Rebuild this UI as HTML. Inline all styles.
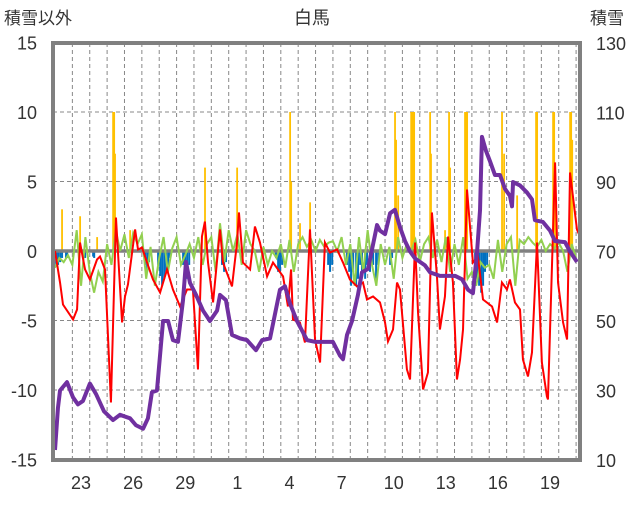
<!DOCTYPE html>
<html><head><meta charset="utf-8">
<style>
body{margin:0;background:#fff;}
svg text{font-family:"Liberation Sans","Noto Sans CJK JP",sans-serif;fill:#333;}
</style></head>
<body>
<svg id="chart" width="636" height="501" xmlns="http://www.w3.org/2000/svg">
<text x="312" y="24" font-size="18" text-anchor="middle">白馬</text>
<text x="4" y="24" font-size="17">積雪以外</text>
<text x="590" y="24" font-size="17">積雪</text>
<g id="grid"></g>
<g id="bars"></g>
<g id="lines"></g>
<g id="frame"></g>
<g id="ticks"></g>
</svg>
<script>
const leftTicks=[15,10,5,0,-5,-10,-15];
const rightTicks=[130,110,90,70,50,30,10];
const dayLabels=['23','26','29','1','4','7','10','13','16','19'];
const dayLabelPos=[1.5,4.5,7.5,10.5,13.5,16.5,19.5,22.5,25.5,28.5];
const snowDays=[0,0.17,0.29,0.69,1.04,1.32,1.61,2.01,2.36,2.82,3.34,3.74,4.32,4.66,5.07,5.35,5.58,5.87,6.22,6.51,6.79,7.08,7.37,7.54,7.77,8.12,8.52,8.92,9.33,9.5,9.84,10.19,10.65,11.05,11.57,11.92,12.38,12.95,13.24,13.53,13.93,14.51,14.97,15.54,16.0,16.41,16.58,16.81,17.1,17.44,17.67,18.02,18.54,18.71,19.0,19.29,19.57,19.86,20.15,20.44,20.73,21.3,21.59,22.16,22.45,23.03,23.43,23.78,24.06,24.3,24.47,24.58,24.81,25.04,25.33,25.62,25.91,26.19,26.31,26.37,26.77,27.17,27.46,27.63,28.09,28.5,28.79,29.36,29.65,30.05];
const snowDepth=[12.9,25,30,32.4,28,26,27,32,29,24,21.5,23,22,20,19,22,29.5,30,50,50,44.5,44,56,67,61,57.5,53,50,53,57.5,56,46,45,44.5,41.6,44.5,45,59,60,55,50,44.5,44,44,44,40,39,46,50,57.5,64,65,77.6,76,75,81,82,77,73,70,68,66,64,63,63,63,62,59,58,70,82,103,99,96,92,92,88,86,83,90,89,87,85,79,78.5,76,73,72.7,70,67];
const tempDays=[0,0.29,0.46,1.04,1.27,1.44,1.73,2.01,2.42,2.59,2.88,3.22,3.51,3.86,4.03,4.20,4.61,4.78,5.01,5.30,5.64,6.05,6.45,6.79,7.20,7.60,7.94,8.23,8.46,8.63,8.81,9.10,9.50,9.67,10.19,10.48,10.59,10.82,11.23,11.51,11.80,12.21,12.55,13.13,13.41,13.59,13.70,14.10,14.39,14.68,14.97,15.26,15.54,15.83,16.24,16.58,16.98,17.39,17.73,17.96,18.31,18.71,19.0,19.17,19.46,19.69,19.86,20.26,20.44,20.73,20.90,21.19,21.47,21.70,21.99,22.16,22.45,22.63,22.91,23.14,23.32,23.49,23.72,24.06,24.35,24.64,25.16,25.45,25.73,26.02,26.19,26.48,26.77,26.94,27.23,27.46,27.75,28.03,28.32,28.38,28.79,28.96,29.25,29.48,29.65,30.05,30.22];
const tempVals=[0,-2.27,-3.85,-4.93,-4.21,0.61,-1.33,-2.05,-0.61,-0.40,-1.33,-10.9,2.41,-5.14,-3.27,-2.41,1.55,0.11,0.25,-0.83,-2.05,-2.99,-1.33,-2.77,-3.99,-2.77,-2.77,-8.52,1.04,2.12,-0.83,-3.70,1.55,-0.83,-2.55,0.61,2.77,-0.83,-1.33,1.76,0.61,-1.83,-0.83,-1.83,-3.99,-1.33,-4.93,-5.14,-6.58,1.55,-6.37,-8.02,0.61,-0.11,0.11,-0.83,-2.05,-2.55,-2.27,-3.49,-3.27,-3.70,-5.14,-6.51,-5.65,-2.27,-2.77,-8.52,-9.24,0.61,-4.42,-9.96,-8.74,2.77,-1.83,-5.65,-3.27,1.04,-2.27,-9.24,-7.81,-5.65,4.42,-0.83,-0.40,-3.49,-3.99,-5.14,-2.27,-2.77,-2.05,-3.70,-4.21,-7.81,-9.03,-7.30,0.61,-8.02,-10.47,-10.68,6.37,-2.27,-5.14,-6.37,5.65,1.55,1.04];
const windVals=[-1.2,-0.5,-0.8,-0.3,-1.0,1.5,-2.5,1.0,-1.5,-3.0,-1.5,-2.2,0.5,-1.0,1.5,0.0,1.2,-0.5,1.3,0.5,1.2,-2.0,0.3,-2.5,-0.5,1.0,-1.5,0.2,1.0,-1.0,-0.3,0.5,-0.5,1.0,-1.0,0.5,1.0,-1.5,2.0,-0.8,1.5,0.0,1.2,-1.0,1.5,0.5,0.0,-1.5,0.3,-1.0,0.0,-0.5,0.5,-1.2,0.8,-1.5,0.5,1.0,0.3,0.8,0.0,0.8,0.3,0.6,0.7,0.0,1.0,-1.0,0.5,-2.5,1.0,-1.5,1.5,-1.0,-2.5,0.5,-1.0,0.3,-2.0,1.0,-0.5,0.5,0.0,0.8,-0.8,0.5,1.0,-0.5,0.8,-0.8,1.0,-1.5,0.5,-1.0,1.0,-2.0,-1.5,-2.5,-0.8,-1.2,-1.0,-2.0,0.8,-1.5,0.5,1.0,-2.5,0.8,0.5,1.0,0.6,0.3,0.8,0.0,0.5,0.2,0.6,0.0,-1.5,0.5,-0.5];
const windStep=0.25;
const precipDays=[0.40,1.44,2.42,3.34,3.40,3.45,4.32,8.63,10.48,13.53,13.59,14.1,14.68,19.57,19.63,19.75,20.5,20.55,20.61,20.67,21.59,21.64,22.45,22.68,22.74,23.6,23.66,23.72,25.73,25.85,26.6,27.69,27.75,28.67,28.73,28.79,29.65,29.71,29.77];
const precipVals=[3,2.5,1,10,10,7,1.5,6,6,10,5,2,3.5,10,8,4,10,10,10,10,10,7,1.5,10,6,10,10,10,10,7,4,10,10,10,10,6,10,10,8];
const sunDays=[0.06,0.17,0.29,0.4,0.63,0.69,1.73,2.19,2.25,5.18,5.3,5.41,5.93,6.05,6.16,6.28,6.39,6.51,6.62,7.37,7.48,7.6,7.72,9.61,9.73,9.84,12.72,12.84,12.95,13.07,15.72,15.83,15.95,16.81,16.93,17.04,17.16,17.33,17.44,17.56,17.67,17.85,17.96,18.13,18.31,18.48,18.6,19.29,19.4,24.18,24.3,24.41,24.53,24.64,24.75,24.87,26.25];
const sunVals=[-1,-1,-0.8,-0.5,-0.5,-0.5,-0.5,-0.4,-0.5,-1,-1.5,-0.8,-1,-1.8,-2.5,-2,-1.5,-1.2,-0.5,-1,-2,-2,-1,-1,-1.5,-0.8,-0.5,-1.5,-1.5,-1,-1,-1.5,-1,-1,-1.5,-2.5,-1.5,-2.5,-2,-1,-1.5,-2,-1,-1.5,-1,-2,-1,-1,-0.5,-1.5,-2,-2.5,-3,-2.5,-1.5,-1];

const X0=55,DAY=17.37,LEFT=53,RIGHT=580,TOP=43,BOT=460;
const xS=d=>X0+d*DAY;
const yL=v=>251-(v/15)*208.5;
const yR=v=>BOT-(v-10)*(BOT-TOP)/120;
const NS='http://www.w3.org/2000/svg';
function mk(tag,parent,attrs){const e=document.createElementNS(NS,tag);for(const k in attrs)e.setAttribute(k,attrs[k]);parent.appendChild(e);return e;}
const grid=document.getElementById('grid'),bars=document.getElementById('bars'),lines=document.getElementById('lines'),frame=document.getElementById('frame'),ticks=document.getElementById('ticks');
leftTicks.forEach((t,i)=>{
  const y=yL(t);
  if(t!==0&&t!==15&&t!==-15){const g=mk('line',grid,{x1:LEFT,x2:RIGHT,y1:y,y2:y,stroke:'#888','stroke-dasharray':'4,3','stroke-width':1});
  
  }
  const tx=mk('text',ticks,{x:37,y:y+7,'font-size':18,'text-anchor':'end'});tx.textContent=t;
  
  
});
rightTicks.forEach(t=>{
  const tx=mk('text',ticks,{x:596,y:yR(t)+7,'font-size':18});tx.textContent=t;
  
  
});
for(let k=1;k<=30;k++){
  const x=xS(k);if(x>=RIGHT-2)break;
  const g=mk('line',grid,{x1:x,x2:x,y1:TOP,y2:BOT,stroke:'#888','stroke-dasharray':'4,3','stroke-width':1});
  
  
}
dayLabels.forEach((l,i)=>{
  const tx=mk('text',ticks,{x:xS(dayLabelPos[i]),y:489,'font-size':18,'text-anchor':'middle'});tx.textContent=l;
  
  
});
precipDays.forEach((d,i)=>{
  const y=yL(precipVals[i]);
  const r=mk('rect',bars,{x:xS(d)-0.8,y:y,width:1.8,height:yL(0)-y,fill:'#ffc000'});
  
  
});
sunDays.forEach((d,i)=>{
  const y=yL(sunVals[i]);
  const r=mk('rect',bars,{x:xS(d)-0.9,y:yL(0),width:2,height:y-yL(0),fill:'#0070c0'});
  
  
});
const z=mk('line',lines,{x1:LEFT,x2:RIGHT,y1:yL(0),y2:yL(0),stroke:'#808080','stroke-width':3.5});


const gp=windVals.map((v,i)=>xS(i*windStep)+','+yL(v)).join(' ');
const gl=mk('polyline',lines,{points:gp,fill:'none',stroke:'#92d050','stroke-width':2});


const rp=tempDays.map((d,i)=>xS(d)+','+yL(tempVals[i])).join(' ');
const rl=mk('polyline',lines,{points:rp,fill:'none',stroke:'#ff0000','stroke-width':2});


const pp=snowDays.map((d,i)=>xS(d)+','+yR(snowDepth[i])).join(' ');
const pl=mk('polyline',lines,{points:pp,fill:'none',stroke:'#7030a0','stroke-width':4,'stroke-linejoin':'round'});


const fr=mk('rect',frame,{x:LEFT,y:TOP,width:RIGHT-LEFT,height:BOT-TOP,fill:'none',stroke:'#808080','stroke-width':4});


</script>
</body></html>
